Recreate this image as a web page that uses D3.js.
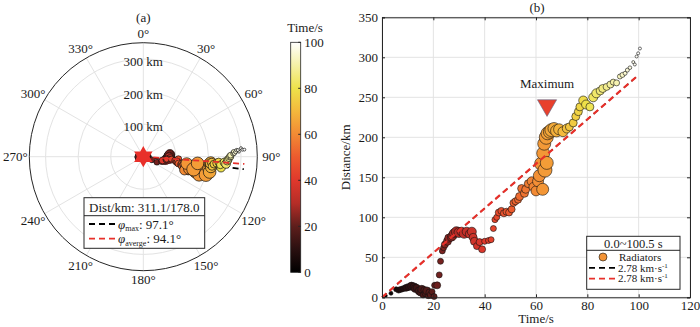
<!DOCTYPE html>
<html><head><meta charset="utf-8">
<script src="https://cdn.jsdelivr.net/npm/d3@7"></script>
<style>
body{margin:0;background:#fff}
text{font-family:"Liberation Serif","Times New Roman",serif;fill:#1a1a1a}
</style>
</head><body>
<svg id="c" width="700" height="327"></svg>
<script>
// ---------------- data ----------------
const times = [1.5,3.5,5.5,6.5,7.5,8.5,9.5,10.5,11.5,12.5,13,13.5,14.5,15,15.5,16,16.5,17,17.5,18,18.5,19,19.5,20.3,20.5,21.5,
 22.3,22.8,23.5,24,24.5,25.5,26,27,27.5,28,29,30,31,32,33,34,35,35.5,36,37,38,39,40,41.5,42.5,
 43.4,44,44.7,45.5,46.5,47.5,48.5,49.5,50.5,51.2,52,53,53.6,54.4,55.5,56,57,58.3,59,60,60.8,61.3,62,62.6,63.5,62.8,63.2,64.2,64,64.5,65.4,66,67,68,69,70.5,
 72,73,74.5,75.5,76.5,77.1,78.4,79.5,81,82.3,83.5,85,86,87.5,89,90.1,91.4,92.7,93.7,94.7,95.6,96.6,97.9,98.5,99.2,99.8,100.5];
const dists = [2,5,10,9,10,11,12,13,14,13,11,12,8,6,10,3,9,5,8,2,6,3,7,1,15,15,
 28,45,58,62,66,70,74,75,77,80,82,81,82,80,82,79,82,75,70,64,69,60,70,71,72,
 86,97,100,106,108,105,107,106,110,118,120,122,126,136,130,135,142,145,138,133,145,152,167,135,159,180,192,168,200,205,207,209,211,208,210,207,
 211,213,218,226,232,238,246,241,238,250,255,258,261,263,266,269,268,276,278,280,284,287,294,291,301,305,311];
const azims = [270,100,95,260,80,275,90,100,265,95,270,90,100,270,95,100,275,90,110,270,100,95,270,90,272,268,
 110,112,105,100,98,95,92,90,88,86,85,87,89,91,93,90,95,97,100,102,99,101,97,98,96,
 95,97,99,96,94,98,100,99,101,102,100,104,101,103,106,100,103,107,104,108,105,101,106,99,104,108,102,97,106,100,96,103,98,95,99,96,
 95,98,96,95,94,97,95,98,96,94,95,93,92,91,90,90,89,88,87,88,87,86,87,86,85,86,86];
const amp = [1.5,2,2.5,3,3,3,3.5,3.5,4,4,4,3.5,4,3.5,4,3,3.5,3.5,4,3,3.5,3.5,3,3,3,3.5,
 3,3,3,3,3.5,4,4,4,4.5,4.5,5,5,4.5,5,4.5,4,4.5,4,4,3.5,3.5,3.5,3,3,3,
 3,3,3,3.5,3.5,3.5,3.5,3.5,3.5,3.5,3.5,3.5,4,4,4,4,4,4.5,4.5,5,5.5,6,6.5,6,7,6.5,6.5,6.5,7,6.5,6.5,6.5,6,6,5.5,5,
 4.5,4,4,4,4,4,4.5,4.5,4,4.5,4.5,4,4,3.5,3.5,3,3,2.5,2.5,2,2,1.8,1.5,1.5,1.5,1.5,1.5];

const rTicks = [100,200,300];
const thetaTicks = [0,30,60,90,120,150,180,210,240,270,300,330];
const cbTicks = [0,20,40,60,80,100];
const cmapPos = [0,10,20,30,40,50,60,70,80,90,100];
const cmapCol = ["#000000","#2a1010","#5e1e1c","#b52d27","#e0382c","#ec5a2e","#f28a34","#f4b83c","#eee24a","#f5f1a6","#ffffff"];
const xTicks = [0,20,40,60,80,100,120];
const yTicks = [0,50,100,150,200,250,300,350];
const phiMax = 97.1, phiAvg = 94.1, distMax = 311.1, distMaxRad = 178.0;
const velocity = 2.78, tEnd = 100.5;
const maxT = 64.3, maxD = 240;

const pts = times.map((t,i)=>({t, d:dists[i], az:azims[i], a:amp[i]})).sort((p,q)=>p.t-q.t);

const svg = d3.select("#c");
svg.append("rect").attr("width",700).attr("height",327).attr("fill","#fff");
const color = d3.scaleLinear().domain(cmapPos).range(cmapCol).interpolate(d3.interpolateRgb).clamp(true);
const ink = "#262626", grid = "#e3e3e3", red = "#e8302a";

// ---------------- panel (a) polar ----------------
const cx = 143.3, cy = 156.7;
const rS = d3.scaleLinear().domain([0,350]).range([0,114]);
const radA = d3.scaleLinear().domain([0,7]).range([0,6.8]);
const pa = svg.append("g");
const polar = (d,az)=>[cx + rS(d)*Math.sin(az*Math.PI/180), cy - rS(d)*Math.cos(az*Math.PI/180)];

pa.selectAll(".ring").data(rTicks).join("circle")
  .attr("cx",cx).attr("cy",cy).attr("r",d=>rS(d)).attr("fill","none").attr("stroke",grid).attr("stroke-width",1);
pa.selectAll(".spoke").data(thetaTicks).join("line")
  .attr("x1",cx).attr("y1",cy)
  .attr("x2",d=>polar(350,d)[0]).attr("y2",d=>polar(350,d)[1])
  .attr("stroke",grid).attr("stroke-width",1);
pa.append("circle").attr("cx",cx).attr("cy",cy).attr("r",rS(350)).attr("fill","none").attr("stroke",ink).attr("stroke-width",1);

pa.selectAll(".rl").data(rTicks).join("text")
  .attr("x",cx).attr("y",d=>cy - rS(d) + 2.5).attr("text-anchor","middle").attr("dominant-baseline","central")
  .attr("font-size",13).text(d=>d+" km");
pa.selectAll(".tl").data(thetaTicks).join("text")
  .attr("x",d=>cx + (123+5*Math.abs(Math.sin(d*Math.PI/180)))*Math.sin(d*Math.PI/180))
  .attr("y",d=>cy - (123+5*Math.abs(Math.sin(d*Math.PI/180)))*Math.cos(d*Math.PI/180))
  .attr("text-anchor","middle").attr("dominant-baseline","central").attr("font-size",13).text(d=>d+"°");

const dirLine = (ang,c)=>{
  const e = polar(distMax,ang);
  pa.append("line").attr("x1",cx).attr("y1",cy).attr("x2",e[0]).attr("y2",e[1])
    .attr("stroke",c).attr("stroke-width",1.8).attr("stroke-dasharray","6,4");
};
dirLine(phiMax,"#000");

pa.selectAll(".pt").data(pts).join("circle")
  .attr("cx",p=>polar(p.d,p.az)[0]).attr("cy",p=>polar(p.d,p.az)[1]).attr("r",p=>radA(p.a))
  .attr("fill",p=>color(p.t)).attr("stroke","#111").attr("stroke-width",0.7);

dirLine(phiAvg,red);

// star (epicentre)
const star = [];
for(let k=0;k<12;k++){ const r = k%2===0?10.6:6.1; const a = k*30*Math.PI/180; star.push([r*Math.sin(a), -r*Math.cos(a)]); }
const sc = polar(0,0);
pa.append("path").attr("d","M"+star.map(p=>(p[0]+sc[0])+","+(p[1]+sc[1])).join("L")+"Z").attr("fill",red);

pa.append("text").attr("x",cx).attr("y",22).attr("text-anchor","middle").attr("font-size",13).text("(a)");

// legend (a)
const la = pa.append("g");
la.append("rect").attr("x",84).attr("y",197.7).attr("width",120.7).attr("height",50.6).attr("fill","#fff").attr("stroke",ink).attr("stroke-width",1);
la.append("line").attr("x1",84).attr("x2",204.7).attr("y1",215.7).attr("y2",215.7).attr("stroke",ink).attr("stroke-width",1);
la.append("text").attr("x",144.3).attr("y",207).attr("dominant-baseline","central").attr("text-anchor","middle").attr("font-size",13)
  .text("Dist/km: "+distMax.toFixed(1)+"/"+distMaxRad.toFixed(1));
[[224,"#000","max",phiMax],[238.7,red,"averge",phiAvg]].forEach(([yy,c,sub,v])=>{
  la.append("line").attr("x1",89).attr("x2",115).attr("y1",yy).attr("y2",yy).attr("stroke",c).attr("stroke-width",1.8).attr("stroke-dasharray","6,4");
  const t = la.append("text").attr("x",118).attr("y",yy+4.5).attr("font-size",13);
  t.append("tspan").attr("font-style","italic").text("φ");
  t.append("tspan").attr("font-size",8).attr("dy",2.5).text(sub);
  t.append("tspan").attr("dy",-2.5).text(": "+v.toFixed(1)+"°");
});

// ---------------- colorbar ----------------
const cbX = 290.7, cbW = 10;
const cbS = d3.scaleLinear().domain([0,100]).range([272.3,42.3]);
const defs = svg.append("defs");
const lg = defs.append("linearGradient").attr("id","cg").attr("x1",0).attr("y1",1).attr("x2",0).attr("y2",0);
cmapPos.forEach((p,i)=>lg.append("stop").attr("offset",(p/100)).attr("stop-color",cmapCol[i]));
svg.append("rect").attr("x",cbX).attr("y",cbS(100)).attr("width",cbW).attr("height",cbS(0)-cbS(100))
  .attr("fill","url(#cg)").attr("stroke",ink).attr("stroke-width",0.8);
svg.selectAll(".cbt").data(cbTicks).join("line").attr("x1",cbX+cbW-2.5).attr("x2",cbX+cbW).attr("y1",d=>cbS(d)).attr("y2",d=>cbS(d)).attr("stroke",ink);
svg.selectAll(".cbl").data(cbTicks).join("text").attr("x",cbX+cbW+3.5).attr("y",d=>cbS(d)).attr("dominant-baseline","central").attr("font-size",13).text(d=>d);
svg.append("text").attr("x",305).attr("y",32).attr("text-anchor","middle").attr("font-size",13).text("Time/s");

// ---------------- panel (b) ----------------
const x = d3.scaleLinear().domain([0,120]).range([382,690]);
const y = d3.scaleLinear().domain([0,350]).range([297.3,17.3]);
const radB = d3.scaleLinear().domain([0,7]).range([0,7]);
const pb = svg.append("g");
pb.selectAll(".gx").data(xTicks).join("line").attr("x1",d=>x(d)).attr("x2",d=>x(d)).attr("y1",y(0)).attr("y2",y(350)).attr("stroke",grid);
pb.selectAll(".gy").data(yTicks).join("line").attr("y1",d=>y(d)).attr("y2",d=>y(d)).attr("x1",x(0)).attr("x2",x(120)).attr("stroke",grid);

const vline = [[0,0],[tEnd*0.995, velocity*tEnd*0.995]];
const ln = d3.line().x(d=>x(d[0])).y(d=>y(d[1]));
pb.append("path").attr("d",ln(vline)).attr("stroke","#000").attr("stroke-width",1.2).attr("fill","none").attr("stroke-dasharray","6,4");

pb.selectAll(".pt").data(pts).join("circle")
  .attr("cx",p=>x(p.t)).attr("cy",p=>y(p.d)).attr("r",p=>radB(p.a))
  .attr("fill",p=>color(p.t)).attr("stroke","#111").attr("stroke-width",0.6);

pb.append("path").attr("d",ln(vline)).attr("stroke",red).attr("stroke-width",2.2).attr("fill","none").attr("stroke-dasharray","6,4");

// maximum marker
pb.append("path").attr("d",d3.symbol(d3.symbolTriangle,160)())
  .attr("transform",`translate(${x(maxT)},${y(maxD)}) rotate(180)`).attr("fill","#e8402c").attr("stroke","#5b6b8c").attr("stroke-width",0.6);
pb.append("text").attr("x",x(maxT)).attr("y",y(maxD)-17).attr("text-anchor","middle").attr("font-size",13).text("Maximum");

// axes
const ax = d3.axisBottom(x).tickValues(xTicks).tickSize(-3).tickPadding(3);
const ay = d3.axisLeft(y).tickValues(yTicks).tickSize(-3).tickPadding(4);
pb.append("g").attr("transform",`translate(0,${y(0)})`).call(ax);
pb.append("g").attr("transform",`translate(${x(0)},0)`).call(ay);
pb.append("g").attr("transform",`translate(0,${y(350)})`).call(d3.axisTop(x).tickValues(xTicks).tickSize(-3).tickFormat(""));
pb.append("g").attr("transform",`translate(${x(120)},0)`).call(d3.axisRight(y).tickValues(yTicks).tickSize(-3).tickFormat(""));
pb.selectAll(".domain").attr("stroke",ink);
pb.selectAll(".tick line").attr("stroke",ink);
pb.selectAll(".tick text").attr("font-size",13).attr("font-family","Liberation Serif").attr("fill","#1a1a1a");

pb.append("text").attr("x",537).attr("y",12).attr("text-anchor","middle").attr("font-size",13).text("(b)");
pb.append("text").attr("x",(x(0)+x(120))/2).attr("y",323).attr("text-anchor","middle").attr("font-size",13).text("Time/s");
pb.append("text").attr("transform",`translate(350,${(y(0)+y(350))/2}) rotate(-90)`).attr("text-anchor","middle").attr("font-size",13).text("Distance/km");

// legend (b)
const lb = pb.append("g");
lb.append("rect").attr("x",586.7).attr("y",236.3).attr("width",93.3).attr("height",53).attr("fill","#fff").attr("stroke",ink).attr("stroke-width",1);
lb.append("line").attr("x1",586.7).attr("x2",680).attr("y1",250.3).attr("y2",250.3).attr("stroke",ink);
lb.append("text").attr("x",633.3).attr("y",243.5).attr("dominant-baseline","central").attr("text-anchor","middle").attr("font-size",12.5)
  .text("0.0~"+tEnd.toFixed(1)+" s");
lb.append("circle").attr("cx",603).attr("cy",257).attr("r",4).attr("fill",color(62)).attr("stroke","#111").attr("stroke-width",0.6);
lb.append("text").attr("x",619).attr("y",260.8).attr("font-size",11).text("Radiators");
[[267.8,"#000"],[278.6,red]].forEach(([yy,c])=>{
  lb.append("line").attr("x1",589).attr("x2",615).attr("y1",yy).attr("y2",yy).attr("stroke",c).attr("stroke-width",1.8).attr("stroke-dasharray","6,4");
  const t = lb.append("text").attr("x",618).attr("y",yy+3.8).attr("font-size",11);
  t.append("tspan").text(velocity.toFixed(2)+" km·s");
  t.append("tspan").attr("font-size",7).attr("dy",-4).text("-1");
});
</script>
</body></html>
